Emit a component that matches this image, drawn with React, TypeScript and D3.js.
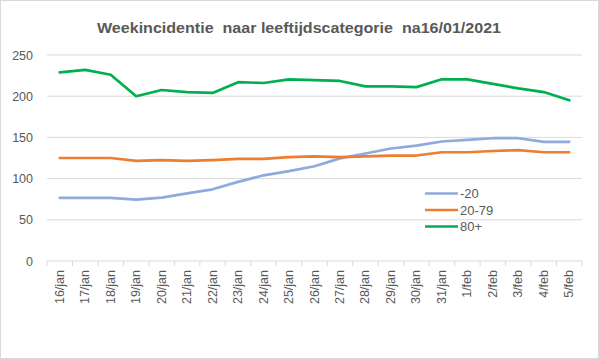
import React from "react";
import * as d3 from "d3";

const categories = ["16/jan","17/jan","18/jan","19/jan","20/jan","21/jan","22/jan","23/jan","24/jan","25/jan","26/jan","27/jan","28/jan","29/jan","30/jan","31/jan","1/feb","2/feb","3/feb","4/feb","5/feb"];
const under20 = [76.5,76.5,76.5,74.5,77,82,87,96,104,109,115,124.5,130.5,136.5,140,145,147,149,149,144.5,144.5];
const age20to79 = [125,125,125,121.5,122.5,121.5,122.5,124,124,126,127,126,127,128,128,132,132,133.5,134.5,132,132];
const age80plus = [229,232,226,200,207.5,205,204,217,216,220.5,219.5,218.5,212,212,211,220.5,220.5,215,209.5,205,195];
const yTicks = [0,50,100,150,200,250];

const series = [
  { name: "-20", values: under20, color: "#8faadc" },
  { name: "20-79", values: age20to79, color: "#ed7d31" },
  { name: "80+", values: age80plus, color: "#00b050" },
];

export default function App() {
  const W = 599, H = 359;
  const left = 47, right = 582, top = 55, bottom = 261;
  const x = d3.scaleBand<string>().domain(categories).range([left, right]);
  const y = d3.scaleLinear().domain([0, 250]).range([bottom, top]);
  const line = d3.line<number>().x((_, i) => (x(categories[i]) as number) + x.bandwidth() / 2).y(d => y(d));
  const font = "'Liberation Sans', Arial, sans-serif";
  const txt = "#595959";
  return (
    <svg width={W} height={H} style={{ position: "absolute", left: 0, top: 0 }} fontFamily={font}>
      <rect x={0.5} y={0.5} width={W - 1} height={H - 1} fill="#fff" stroke="#d9d9d9" />
      <text x={299} y={33} textAnchor="middle" fontSize={15} fontWeight="bold" fill={txt} textLength={404} lengthAdjust="spacingAndGlyphs" style={{ whiteSpace: "pre" }}>
        {"Weekincidentie  naar leeftijdscategorie  na16/01/2021"}
      </text>
      {yTicks.map(t => (
        <g key={t}>
          {t > 0 && <line x1={left} x2={right} y1={y(t)} y2={y(t)} stroke="#d9d9d9" strokeWidth={1} />}
          <text x={33} y={y(t) + 4.5} textAnchor="end" fontSize={12.5} fill={txt}>{t}</text>
        </g>
      ))}
      <line x1={left} x2={right} y1={bottom} y2={bottom} stroke="#d9d9d9" strokeWidth={1} />
      {categories.map((c, i) => (
        <line key={"t" + i} x1={x(c)} x2={x(c)} y1={bottom} y2={bottom + 5} stroke="#d9d9d9" />
      ))}
      <line x1={right} x2={right} y1={bottom} y2={bottom + 5} stroke="#d9d9d9" />
      {categories.map((c, i) => {
        const cx = (x(c) as number) + x.bandwidth() / 2 + 4;
        return (
          <text key={"l" + i} transform={`translate(${cx},${bottom + 9}) rotate(-90)`} textAnchor="end" fontSize={12.5} fill={txt}>{c}</text>
        );
      })}
      {series.map(s => (
        <path key={s.name} d={line(s.values) as string} fill="none" stroke={s.color} strokeWidth={2.7} strokeLinejoin="round" strokeLinecap="round" />
      ))}
      {series.map((s, i) => (
        <g key={"lg" + s.name}>
          <line x1={425} x2={458} y1={193.5 + i * 16.5} y2={193.5 + i * 16.5} stroke={s.color} strokeWidth={2.7} />
          <text x={460} y={193.5 + i * 16.5 + 4.5} fontSize={13} fill={txt}>{s.name}</text>
        </g>
      ))}
    </svg>
  );
}
